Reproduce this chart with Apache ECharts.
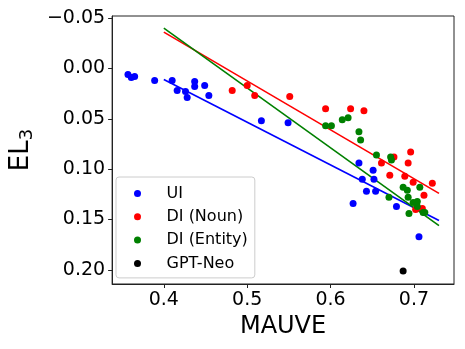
<!DOCTYPE html>
<html>
<head>
	<title>mauve el3</title>
	<meta charset="utf-8">
	<script src="https://cdn.jsdelivr.net/npm/echarts@6/dist/echarts.min.js"></script>
	<style type="text/css">
		body{ margin: 0; padding: 0; }
		#chart{ width: 465px; height: 349px; }
	</style>
</head>
<body>
	<div id="chart"></div>
	<script type="text/javascript">
	// UI points
	var uiX = [0.357, 0.361, 0.365, 0.389, 0.410, 0.416, 0.426, 0.428, 0.437, 0.437, 0.449, 0.454, 0.517, 0.549, 0.634, 0.651, 0.638, 0.652, 0.643, 0.654, 0.627, 0.679, 0.706];
	var uiY = [0.006, 0.009, 0.008, 0.012, 0.012, 0.022, 0.023, 0.029, 0.013, 0.018, 0.017, 0.027, 0.052, 0.054, 0.094, 0.101, 0.110, 0.110, 0.122, 0.122, 0.134, 0.137, 0.167];
	// DI (Noun)
	var nounX = [0.482, 0.500, 0.509, 0.551, 0.594, 0.624, 0.640, 0.676, 0.696, 0.661, 0.693, 0.671, 0.689, 0.699, 0.722, 0.712, 0.702, 0.710];
	var nounY = [0.022, 0.017, 0.027, 0.028, 0.040, 0.040, 0.042, 0.088, 0.083, 0.094, 0.094, 0.106, 0.107, 0.113, 0.114, 0.126, 0.140, 0.139];
	// DI (Entity)
	var entX = [0.594, 0.601, 0.614, 0.621, 0.634, 0.636, 0.655, 0.672, 0.673, 0.687, 0.692, 0.707, 0.670, 0.693, 0.699, 0.704, 0.694, 0.711, 0.713, 0.704];
	var entY = [0.057, 0.057, 0.051, 0.049, 0.063, 0.071, 0.086, 0.088, 0.091, 0.118, 0.121, 0.118, 0.128, 0.128, 0.133, 0.132, 0.144, 0.143, 0.143, 0.137];
	// GPT-Neo
	var neoX = [0.687];
	var neoY = [0.201];
	// fitted lines (endpoints)
	var fitX = [0.40, 0.73];
	var uiFit = [0.011, 0.151];
	var nounFit = [-0.036, 0.124];
	var entFit = [-0.040, 0.156];

	var xTicks = [0.4, 0.5, 0.6, 0.7];
	var yTicks = [-0.05, 0, 0.05, 0.10, 0.15, 0.20];

	function pairs(xs, ys){
		var out = [];
		for (var i = 0; i < xs.length; i++) out.push([xs[i], ys[i]]);
		return out;
	}

	var font = 'DejaVu Sans';
	var myChart = echarts.init(document.getElementById('chart'));

	function fitLine(ys, color){
		return {
			type: 'line',
			data: pairs(fitX, ys),
			showSymbol: false,
			symbol: 'none',
			silent: true,
			z: 1,
			lineStyle: { color: color, width: 1.6 }
		};
	}
	function dots(name, xs, ys, color){
		return {
			name: name,
			type: 'scatter',
			data: pairs(xs, ys),
			symbolSize: 7,
			z: 3,
			itemStyle: { color: color, opacity: 1 }
		};
	}

	var option = {
		animation: false,
		grid: {
			left: 107, top: 16, right: 11, bottom: 65,
			show: true, borderColor: '#222', borderWidth: 1
		},
		xAxis: {
			type: 'value',
			min: 0.338, max: 0.748,
			name: 'MAUVE',
			nameLocation: 'middle',
			nameGap: 26,
			nameTextStyle: { fontFamily: font, fontSize: 24, color: '#000' },
			axisLine: { onZero: false, lineStyle: { color: '#222' } },
			axisTick: { customValues: xTicks, length: 4, lineStyle: { color: '#222' } },
			axisLabel: {
				customValues: xTicks, margin: 7,
				fontFamily: font, fontSize: 19, color: '#000',
				formatter: function(v){ return v.toFixed(1); }
			},
			splitLine: { show: false }
		},
		yAxis: {
			type: 'value',
			inverse: true,
			min: -0.052, max: 0.214,
			name: '{a|EL}{b|3}',
			nameLocation: 'middle',
			nameGap: 68,
			nameTextStyle: {
				rich: {
					a: { fontFamily: font, fontSize: 26, color: '#000' },
					b: { fontFamily: font, fontSize: 18, color: '#000', verticalAlign: 'bottom', padding: [12, 0, 0, 0] }
				}
			},
			axisLine: { onZero: false, lineStyle: { color: '#222' } },
			axisTick: { customValues: yTicks, length: 4, lineStyle: { color: '#222' } },
			axisLabel: {
				customValues: yTicks, margin: 7,
				fontFamily: font, fontSize: 19, color: '#000',
				formatter: function(v){
					var s = Math.abs(v).toFixed(2);
					return v < -1e-9 ? '\u2212' + s : s;
				}
			},
			splitLine: { show: false }
		},
		legend: {
			orient: 'vertical',
			left: 116, top: 177,
			padding: [8, 7, 6, 18],
			itemWidth: 12, itemHeight: 7,
			itemGap: 6.3,
			backgroundColor: 'rgba(255,255,255,0.8)',
			borderColor: '#ccc', borderWidth: 1, borderRadius: 3,
			data: [
				{ name: 'UI', icon: 'circle' },
				{ name: 'DI (Noun)', icon: 'circle' },
				{ name: 'DI (Entity)', icon: 'circle' },
				{ name: 'GPT-Neo', icon: 'circle' }
			],
			textStyle: { fontFamily: font, fontSize: 16, color: '#000', lineHeight: 17, padding: [0, 0, 0, 18] }
		},
		series: [
			fitLine(uiFit, '#0000ff'),
			fitLine(nounFit, '#ff0000'),
			fitLine(entFit, '#008000'),
			dots('UI', uiX, uiY, '#0000ff'),
			dots('DI (Noun)', nounX, nounY, '#ff0000'),
			dots('DI (Entity)', entX, entY, '#008000'),
			dots('GPT-Neo', neoX, neoY, '#000000')
		]
	};
	myChart.setOption(option);
	</script>
</body>
</html>
